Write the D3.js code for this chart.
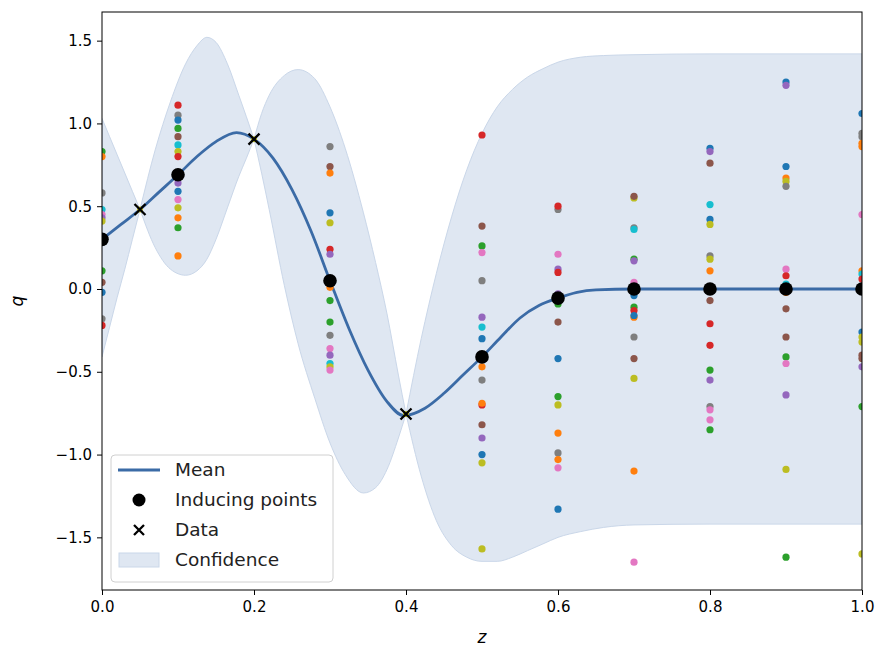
<!DOCTYPE html>
<html><head><meta charset="utf-8">
<script src="https://cdn.jsdelivr.net/npm/d3@7"></script>
<style>body{margin:0;background:#fff}svg{display:block;font-family:"DejaVu Sans",sans-serif}</style>
</head><body><svg id="c" width="879" height="648"></svg>
<script>
const tab10 = ["#1f77b4","#ff7f0e","#2ca02c","#d62728","#9467bd","#8c564b","#e377c2","#7f7f7f","#bcbd22","#17becf"];

// sample columns (z position, sample values, tab10 color index)
const colZ = [0, 0.1, 0.3, 0.5, 0.6, 0.7, 0.8, 0.9, 1.0];
const colValues = [
  [0.83,0.80,0.58,0.48,0.45,0.43,0.41,0.30,0.11,0.04,-0.02,-0.18,-0.22],
  [1.11,1.05,1.02,0.97,0.92,0.87,0.83,0.80,0.64,0.59,0.54,0.49,0.43,0.37,0.20],
  [0.86,0.74,0.70,0.46,0.40,0.24,0.21,0.01,-0.07,-0.20,-0.28,-0.36,-0.40,-0.45,-0.47,-0.49],
  [0.93,0.38,0.26,0.22,0.05,-0.17,-0.23,-0.30,-0.47,-0.55,-0.70,-0.69,-0.82,-0.90,-1.00,-1.05,-1.57],
  [0.48,0.50,0.21,0.12,0.10,-0.03,-0.09,-0.20,-0.42,-0.65,-0.70,-0.87,-0.99,-1.03,-1.08,-1.33],
  [0.55,0.56,0.37,0.36,0.18,0.17,0.04,-0.04,-0.11,-0.13,-0.17,-0.16,-0.29,-0.42,-0.54,-1.10,-1.65],
  [0.85,0.83,0.76,0.51,0.42,0.39,0.20,0.18,0.11,-0.07,-0.21,-0.34,-0.49,-0.55,-0.71,-0.73,-0.79,-0.85],
  [1.25,1.23,0.74,0.67,0.65,0.62,0.12,0.08,0.03,-0.02,-0.12,-0.29,-0.41,-0.45,-0.64,-1.09,-1.62],
  [1.06,0.94,0.92,0.88,0.86,0.45,0.11,0.09,0.06,-0.26,-0.29,-0.32,-0.40,-0.42,-0.47,-0.71,-1.60]
];
const colColors = [
  [2,1,7,9,6,4,8,5,2,5,0,7,3],
  [3,7,0,2,5,9,8,3,4,0,6,8,1,2,1],
  [7,5,1,0,8,3,4,1,2,2,7,6,4,9,8,6],
  [3,5,2,6,7,4,9,0,1,7,3,1,5,4,0,8,8],
  [7,3,6,4,3,4,2,5,0,2,8,1,7,1,6,0],
  [8,5,7,9,2,4,6,0,2,3,1,0,7,5,8,1,6],
  [0,4,5,9,0,8,7,8,1,5,3,3,2,4,7,6,6,2],
  [0,4,0,1,8,7,6,3,9,1,5,5,2,6,4,8,2],
  [0,7,7,1,1,6,1,9,3,0,8,8,5,5,4,2,8]
];

const inducingZ = [0, 0.1, 0.3, 0.5, 0.6, 0.7, 0.8, 0.9, 1.0];
const inducingQ = [0.30, 0.69, 0.05, -0.41, -0.055, 0.0, 0.0, 0.0, 0.0];
const dataZ = [0.05, 0.2, 0.4];
const dataQ = [0.48, 0.905, -0.755];

const meanZ = [0,0.025,0.05,0.075,0.1,0.125,0.15,0.177,0.2,0.225,0.25,0.275,0.3,0.325,0.35,0.375,0.397,0.425,0.45,0.475,0.5,0.525,0.55,0.575,0.6,0.625,0.65,0.7,0.8,0.9,1.0];
const meanQ = [0.30,0.39,0.48,0.585,0.69,0.80,0.89,0.945,0.905,0.79,0.60,0.35,0.05,-0.24,-0.49,-0.68,-0.765,-0.72,-0.63,-0.52,-0.41,-0.29,-0.175,-0.10,-0.055,-0.02,-0.005,0,0,0,0];

const bandZ = [0,0.01,0.02,0.03,0.04,0.05, 0.07,0.09,0.11,0.125,0.138,0.15,0.165,0.18,0.19,0.2, 0.21,0.22,0.24,0.258,0.28,0.3,0.32,0.344,0.36,0.375,0.39,0.4, 0.42,0.44,0.46,0.48,0.5,0.52,0.54,0.56,0.58,0.6,0.63,0.66,0.7,0.8,0.9,1.0];
const bandUpper = [1.03,0.92,0.81,0.70,0.59,0.48, 0.84,1.13,1.36,1.47,1.52,1.49,1.36,1.17,1.04,0.905, 1.06,1.17,1.29,1.325,1.27,1.10,0.85,0.46,0.16,-0.15,-0.52,-0.755, -0.30,0.095,0.436,0.72,0.94,1.10,1.205,1.28,1.33,1.37,1.40,1.41,1.415,1.42,1.42,1.42];
const bandLower = [-0.41,-0.23,-0.05,0.12,0.30,0.48, 0.25,0.12,0.083,0.11,0.18,0.30,0.49,0.68,0.79,0.905, 0.70,0.48,0.02,-0.33,-0.66,-0.93,-1.12,-1.232,-1.20,-1.09,-0.90,-0.755, -1.13,-1.40,-1.55,-1.62,-1.645,-1.645,-1.62,-1.58,-1.54,-1.50,-1.465,-1.44,-1.425,-1.42,-1.42,-1.42];

const xTicks = [0, 0.2, 0.4, 0.6, 0.8, 1.0];
const yTicks = [-1.5, -1.0, -0.5, 0.0, 0.5, 1.0, 1.5];
const legendLabels = ["Mean", "Inducing points", "Data", "Confidence"];

const L = 102, R = 862, T = 12, B = 590;
const x = d3.scaleLinear().domain([0, 1]).range([L, R]);
const y = d3.scaleLinear().domain([-1.818, 1.673]).range([B, T]);
const svg = d3.select("#c");
const fmt = v => d3.format(".1f")(v).replace("-", "\u2212");

svg.append("defs").append("clipPath").attr("id","clip")
  .append("rect").attr("x",L).attr("y",T).attr("width",R-L).attr("height",B-T);
const g = svg.append("g").attr("clip-path","url(#clip)");

// band, split at pinch points
const bandPts = bandZ.map((z,i)=>({z, u:bandUpper[i], l:bandLower[i]}));
const segs = []; let cur = [];
bandPts.forEach(p => { cur.push(p); if (dataZ.includes(p.z)) { segs.push(cur); cur = [p]; } });
if (cur.length > 1) segs.push(cur);
const area = d3.area().x(d=>x(d.z)).y0(d=>y(d.l)).y1(d=>y(d.u)).curve(d3.curveMonotoneX);
segs.forEach(s => g.append("path").attr("d", area(s))
  .attr("fill","#dfe7f2").attr("stroke","#cad7e9").attr("stroke-width",1));

// mean line
const line = d3.line().x((d,i)=>x(meanZ[i])).y(d=>y(d)).curve(d3.curveMonotoneX);
g.append("path").attr("d", line(meanQ)).attr("fill","none").attr("stroke","#3b6ba6").attr("stroke-width",2.8);

// sample dots
colZ.forEach((z,ci) => {
  colValues[ci].forEach((v,k) => {
    g.append("circle").attr("cx",x(z)).attr("cy",y(v)).attr("r",3.6).attr("fill",tab10[colColors[ci][k]]);
  });
});
// small olive dots at data locations
dataZ.forEach((z,i)=> g.append("circle").attr("cx",x(z)).attr("cy",y(dataQ[i])).attr("r",3).attr("fill",tab10[8]));

// inducing points
inducingZ.forEach((z,i)=> g.append("circle").attr("cx",x(z)).attr("cy",y(inducingQ[i])).attr("r",6.8).attr("fill","#000"));

// data x markers
function xMark(sel, cx, cy, s) {
  sel.append("path").attr("d",`M${cx-s},${cy-s}L${cx+s},${cy+s}M${cx-s},${cy+s}L${cx+s},${cy-s}`)
    .attr("stroke","#000").attr("stroke-width",2.3).attr("fill","none");
}
dataZ.forEach((z,i)=> xMark(g, x(z), y(dataQ[i]), 5.5));

// axes
const xAxis = d3.axisBottom(x).tickValues(xTicks).tickFormat(fmt).tickSize(5).tickPadding(6).tickSizeOuter(0);
const yAxis = d3.axisLeft(y).tickValues(yTicks).tickFormat(fmt).tickSize(5).tickPadding(5).tickSizeOuter(0);
const gx = svg.append("g").attr("transform",`translate(0,${B})`).call(xAxis);
const gy = svg.append("g").attr("transform",`translate(${L},0)`).call(yAxis);
[gx,gy].forEach(a => { a.select(".domain").remove(); a.selectAll("text").attr("font-size",15).attr("fill","#000").attr("font-family","DejaVu Sans"); a.selectAll("line").attr("stroke","#000"); });
svg.append("rect").attr("x",L).attr("y",T).attr("width",R-L).attr("height",B-T).attr("fill","none").attr("stroke","#000").attr("stroke-width",1);

svg.append("text").attr("x",(L+R)/2).attr("y",643).attr("text-anchor","middle").attr("font-size",17).attr("font-style","italic").text("z");
svg.append("text").attr("transform",`translate(23,${(T+B)/2}) rotate(-90)`).attr("text-anchor","middle").attr("font-size",17).attr("font-style","italic").text("q");

// legend
const lg = svg.append("g");
lg.append("rect").attr("x",111).attr("y",455).attr("width",222).attr("height",127).attr("rx",4)
  .attr("fill","rgba(255,255,255,0.8)").attr("stroke","#d0d0d0");
const rowY = [470, 500, 530, 560];
lg.append("line").attr("x1",118).attr("x2",160).attr("y1",rowY[0]).attr("y2",rowY[0]).attr("stroke","#3b6ba6").attr("stroke-width",2.8);
lg.append("circle").attr("cx",139).attr("cy",rowY[1]).attr("r",6.5).attr("fill","#000");
xMark(lg, 139, rowY[2], 5);
lg.append("rect").attr("x",119).attr("y",rowY[3]-7).attr("width",40).attr("height",14).attr("fill","#dfe7f2").attr("stroke","#cad7e9");
legendLabels.forEach((t,i)=> lg.append("text").attr("x",175).attr("y",rowY[i]).attr("dy","0.35em").attr("font-size",18.5).attr("fill","#222").text(t));
</script></body></html>
